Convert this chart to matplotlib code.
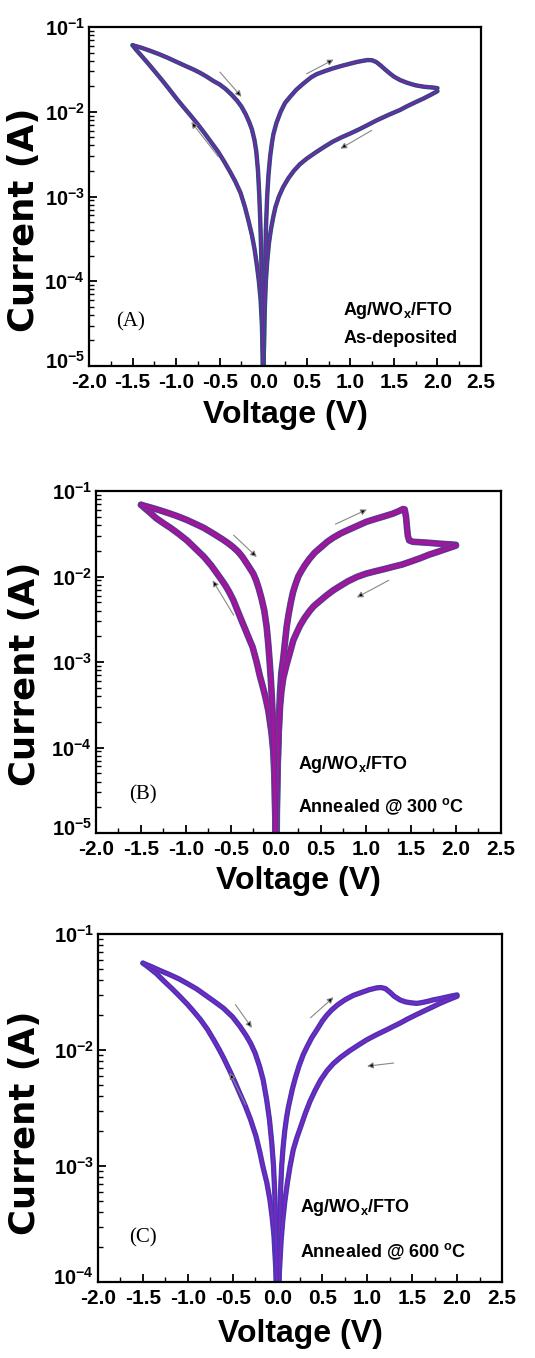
import matplotlib
matplotlib.use("Agg")
import matplotlib.pyplot as plt
from matplotlib.ticker import LogLocator, MultipleLocator, NullFormatter, FixedLocator
from matplotlib.transforms import ScaledTranslation

plt.rcParams['font.family'] = ['Liberation Sans', 'DejaVu Sans']
plt.rcParams['font.weight'] = 'bold'
plt.rcParams['mathtext.fontset'] = 'custom'
plt.rcParams['mathtext.rm'] = 'Liberation Sans:bold'
plt.rcParams['mathtext.it'] = 'Liberation Sans:bold'
plt.rcParams['mathtext.bf'] = 'Liberation Sans:bold'
plt.rcParams['mathtext.default'] = 'rm'

# ---------------- Data ----------------
# Panel A : as-deposited   (sweep 0 -> 2 -> 0 -> -1.5 -> 0)
A_fwd_pos_V = [0.0, 0.005, 0.01, 0.02, 0.03, 0.045, 0.06, 0.08, 0.1, 0.116, 0.15, 0.2, 0.25, 0.308,
               0.38, 0.46, 0.55, 0.614, 0.7, 0.8, 0.9, 1.0, 1.08, 1.15, 1.2, 1.25, 1.3, 1.35, 1.4,
               1.45, 1.5, 1.57, 1.65, 1.75, 1.85, 1.95, 2.0]
A_fwd_pos_I = [1e-6, 1.2e-5, 3e-5, 1.2e-4, 4e-4, 1.0e-3, 1.8e-3, 3.0e-3, 4.3e-3, 5.4e-3, 7.3e-3,
               1.0e-2, 1.27e-2, 1.5e-2, 1.82e-2, 2.15e-2, 2.55e-2, 2.78e-2, 3.0e-2, 3.25e-2,
               3.48e-2, 3.7e-2, 3.88e-2, 4.0e-2, 4.08e-2, 4.05e-2, 3.85e-2, 3.5e-2, 3.15e-2,
               2.85e-2, 2.6e-2, 2.37e-2, 2.2e-2, 2.05e-2, 1.97e-2, 1.93e-2, 1.9e-2]
A_rev_pos_V = [2.0, 1.93, 1.85, 1.75, 1.65, 1.57, 1.45, 1.3, 1.19, 1.1, 1.0, 0.9, 0.8, 0.7, 0.6,
               0.5, 0.42, 0.35, 0.29, 0.23, 0.18, 0.14, 0.116, 0.09, 0.065, 0.045, 0.03, 0.015,
               0.005, 0.0]
A_rev_pos_I = [1.75e-2, 1.6e-2, 1.45e-2, 1.3e-2, 1.16e-2, 1.05e-2, 9.3e-3, 7.9e-3, 6.9e-3, 6.2e-3,
               5.55e-3, 5.0e-3, 4.45e-3, 3.85e-3, 3.3e-3, 2.8e-3, 2.4e-3, 2.0e-3, 1.65e-3, 1.3e-3,
               1.0e-3, 7.5e-4, 5.8e-4, 4.2e-4, 2.8e-4, 1.7e-4, 1.0e-4, 4e-5, 1.2e-5, 1e-6]
A_fwd_neg_V = [0.0, -0.005, -0.015, -0.03, -0.05, -0.075, -0.1, -0.13, -0.17, -0.21, -0.26, -0.32,
               -0.38, -0.45, -0.52, -0.6, -0.68, -0.76, -0.84, -0.92, -1.0, -1.08, -1.16, -1.24,
               -1.32, -1.4, -1.46, -1.5]
A_fwd_neg_I = [1e-6, 1.2e-5, 3e-5, 6e-5, 1.0e-4, 1.6e-4, 2.4e-4, 3.5e-4, 5.2e-4, 7.5e-4, 1.1e-3,
               1.5e-3, 1.95e-3, 2.6e-3, 3.4e-3, 4.4e-3, 5.7e-3, 7.3e-3, 9.2e-3, 1.15e-2, 1.45e-2,
               1.85e-2, 2.35e-2, 2.95e-2, 3.7e-2, 4.6e-2, 5.4e-2, 6.1e-2]
A_rev_neg_V = [-1.5, -1.4, -1.3, -1.2, -1.1, -1.0, -0.9, -0.8, -0.73, -0.65, -0.57, -0.5, -0.43,
               -0.36, -0.3, -0.25, -0.2, -0.16, -0.13, -0.1, -0.08, -0.06, -0.045, -0.035, -0.025,
               -0.015, -0.005, 0.0]
A_rev_neg_I = [6.1e-2, 5.7e-2, 5.25e-2, 4.8e-2, 4.35e-2, 3.9e-2, 3.5e-2, 3.15e-2, 2.9e-2, 2.6e-2,
               2.3e-2, 2.1e-2, 1.85e-2, 1.58e-2, 1.35e-2, 1.15e-2, 9.3e-3, 7.5e-3, 6.2e-3, 4.6e-3,
               3.4e-3, 2.0e-3, 1.0e-3, 5.5e-4, 2.5e-4, 8e-5, 1.5e-5, 1e-6]

# Panel B : annealed @ 300 C
B_fwd_pos_V = [0.0, 0.01, 0.02, 0.03, 0.044, 0.06, 0.081, 0.1, 0.119, 0.14, 0.165, 0.19, 0.22,
               0.248, 0.28, 0.32, 0.37, 0.43, 0.5, 0.57, 0.637, 0.72, 0.8, 0.9, 1.0, 1.1, 1.2, 1.3,
               1.37, 1.41, 1.43, 1.445, 1.455, 1.465, 1.48, 1.52, 1.6, 1.7, 1.8, 1.9, 2.0]
B_fwd_pos_I = [1e-6, 2e-5, 7e-5, 1.6e-4, 4.2e-4, 7.5e-4, 1.1e-3, 1.7e-3, 2.6e-3, 3.6e-3, 5.0e-3,
               6.6e-3, 8.3e-3, 1.0e-2, 1.15e-2, 1.35e-2, 1.6e-2, 1.9e-2, 2.2e-2, 2.55e-2, 2.85e-2,
               3.2e-2, 3.5e-2, 3.9e-2, 4.35e-2, 4.7e-2, 5.05e-2, 5.45e-2, 5.85e-2, 6.15e-2,
               6.1e-2, 5.0e-2, 3.8e-2, 3.0e-2, 2.65e-2, 2.55e-2, 2.52e-2, 2.48e-2, 2.43e-2,
               2.39e-2, 2.35e-2]
B_rev_pos_V = [2.0, 1.9, 1.8, 1.7, 1.61, 1.5, 1.4, 1.3, 1.2, 1.1, 1.0, 0.9, 0.8, 0.7, 0.637, 0.56,
               0.48, 0.42, 0.378, 0.32, 0.27, 0.23, 0.193, 0.156, 0.12, 0.081, 0.06, 0.045, 0.03,
               0.015, 0.005, 0.0]
B_rev_pos_I = [2.3e-2, 2.12e-2, 1.95e-2, 1.8e-2, 1.65e-2, 1.5e-2, 1.38e-2, 1.3e-2, 1.22e-2,
               1.15e-2, 1.08e-2, 9.9e-3, 8.8e-3, 7.6e-3, 6.9e-3, 6.0e-3, 5.1e-3, 4.5e-3, 4.0e-3,
               3.3e-3, 2.7e-3, 2.2e-3, 1.8e-3, 1.3e-3, 9.5e-4, 6.5e-4, 4.5e-4, 3e-4, 1.5e-4, 5e-5,
               1.2e-5, 1e-6]
B_fwd_neg_V = [0.0, -0.005, -0.015, -0.03, -0.05, -0.085, -0.12, -0.15, -0.178, -0.215, -0.26,
               -0.326, -0.4, -0.474, -0.52, -0.56, -0.6, -0.659, -0.72, -0.8, -0.9, -0.99, -1.08,
               -1.17, -1.25, -1.33, -1.4, -1.45, -1.5]
B_fwd_neg_I = [1e-6, 1.2e-5, 4e-5, 9e-5, 1.5e-4, 2.7e-4, 4e-4, 5.3e-4, 6.8e-4, 1.0e-3, 1.5e-3,
               2.2e-3, 3.4e-3, 5.3e-3, 6.6e-3, 7.8e-3, 9.0e-3, 1.1e-2, 1.35e-2, 1.7e-2, 2.15e-2,
               2.65e-2, 3.15e-2, 3.7e-2, 4.2e-2, 4.8e-2, 5.6e-2, 6.2e-2, 6.9e-2]
B_rev_neg_V = [-1.5, -1.4, -1.3, -1.2, -1.1, -0.992, -0.9, -0.8, -0.7, -0.6, -0.53, -0.474,
               -0.42, -0.37, -0.33, -0.29, -0.252, -0.22, -0.19, -0.16, -0.13, -0.104, -0.085,
               -0.07, -0.058, -0.048, -0.035, -0.02, -0.008, 0.0]
B_rev_neg_I = [6.9e-2, 6.45e-2, 6.0e-2, 5.55e-2, 5.1e-2, 4.6e-2, 4.15e-2, 3.7e-2, 3.2e-2,
               2.75e-2, 2.45e-2, 2.2e-2, 1.95e-2, 1.68e-2, 1.45e-2, 1.25e-2, 1.08e-2, 9.0e-3,
               7.2e-3, 5.5e-3, 4.0e-3, 2.6e-3, 1.6e-3, 1.0e-3, 6.5e-4, 4.2e-4, 2.2e-4, 8e-5, 2e-5,
               1e-6]

# Panel C : annealed @ 600 C
C_fwd_pos_V = [0.0, 0.005, 0.015, 0.025, 0.035, 0.046, 0.06, 0.08, 0.1, 0.12, 0.138, 0.165, 0.2,
               0.24, 0.286, 0.33, 0.38, 0.44, 0.5, 0.546, 0.6, 0.67, 0.75, 0.843, 0.93, 1.02, 1.1,
               1.15, 1.2, 1.25, 1.3, 1.363, 1.42, 1.48, 1.548, 1.6, 1.67, 1.734, 1.8, 1.87, 1.94,
               2.0]
C_fwd_pos_I = [1e-6, 3e-5, 1.5e-4, 3.5e-4, 6.5e-4, 1.0e-3, 1.4e-3, 2.0e-3, 2.6e-3, 3.2e-3, 3.7e-3,
               4.6e-3, 5.8e-3, 7.3e-3, 9.1e-3, 1.07e-2, 1.27e-2, 1.5e-2, 1.78e-2, 1.98e-2, 2.2e-2,
               2.45e-2, 2.7e-2, 2.95e-2, 3.12e-2, 3.3e-2, 3.42e-2, 3.45e-2, 3.38e-2, 3.15e-2,
               2.9e-2, 2.7e-2, 2.6e-2, 2.55e-2, 2.52e-2, 2.55e-2, 2.62e-2, 2.7e-2, 2.76e-2,
               2.84e-2, 2.92e-2, 2.98e-2]
C_rev_pos_V = [2.0, 1.9, 1.8, 1.734, 1.65, 1.55, 1.45, 1.363, 1.28, 1.2, 1.1, 0.992, 0.9, 0.8, 0.7,
               0.62, 0.55, 0.48, 0.42, 0.361, 0.31, 0.26, 0.215, 0.175, 0.14, 0.11, 0.082, 0.06,
               0.04, 0.02, 0.008, 0.0]
C_rev_pos_I = [2.9e-2, 2.7e-2, 2.5e-2, 2.36e-2, 2.2e-2, 2.02e-2, 1.85e-2, 1.7e-2, 1.58e-2,
               1.47e-2, 1.35e-2, 1.22e-2, 1.1e-2, 9.8e-3, 8.6e-3, 7.6e-3, 6.6e-3, 5.5e-3, 4.5e-3,
               3.6e-3, 2.85e-3, 2.2e-3, 1.75e-3, 1.38e-3, 1.0e-3, 7.2e-4, 5.0e-4, 3.5e-4, 2.3e-4,
               1.2e-4, 5e-5, 1e-6]
C_fwd_neg_V = [0.0, -0.008, -0.02, -0.04, -0.06, -0.085, -0.12, -0.165, -0.196, -0.24, -0.3,
               -0.36, -0.419, -0.48, -0.54, -0.6, -0.648, -0.7, -0.78, -0.86, -0.94, -1.01, -1.1,
               -1.18, -1.27, -1.35, -1.43, -1.5]
C_fwd_neg_I = [1e-6, 5e-5, 1.3e-4, 2.5e-4, 3.6e-4, 5.1e-4, 7.2e-4, 1.0e-3, 1.3e-3, 1.8e-3, 2.5e-3,
               3.3e-3, 4.2e-3, 5.4e-3, 6.8e-3, 8.5e-3, 1.0e-2, 1.18e-2, 1.5e-2, 1.83e-2, 2.17e-2,
               2.5e-2, 2.95e-2, 3.4e-2, 3.95e-2, 4.55e-2, 5.1e-2, 5.6e-2]
C_rev_neg_V = [-1.5, -1.4, -1.3, -1.2, -1.1, -1.012, -0.9, -0.8, -0.7, -0.6, -0.5, -0.42, -0.35,
               -0.3, -0.25, -0.2, -0.16, -0.121, -0.09, -0.065, -0.045, -0.03, -0.02, -0.01,
               -0.004, 0.0]
C_rev_neg_I = [5.6e-2, 5.2e-2, 4.8e-2, 4.45e-2, 4.1e-2, 3.76e-2, 3.35e-2, 2.95e-2, 2.6e-2,
               2.28e-2, 1.92e-2, 1.6e-2, 1.33e-2, 1.14e-2, 9.4e-3, 7.2e-3, 5.5e-3, 3.7e-3, 2.5e-3,
               1.6e-3, 1.0e-3, 5.5e-4, 2.8e-4, 1.2e-4, 4e-5, 1e-6]

x_ticks = [-2.0, -1.5, -1.0, -0.5, 0.0, 0.5, 1.0, 1.5, 2.0, 2.5]
x_tick_labels = ['-2.0', '-1.5', '-1.0', '-0.5', '0.0', '0.5', '1.0', '1.5', '2.0', '2.5']
y_ticks = [
    [1e-5, 1e-4, 1e-3, 1e-2, 1e-1],
    [1e-5, 1e-4, 1e-3, 1e-2, 1e-1],
    [1e-4, 1e-3, 1e-2, 1e-1],
]
panel_letters = ['(A)', '(B)', '(C)']
device_label = r'Ag/WO$_{x}$/FTO'
condition_labels = ['As-deposited', r'Annealed @ 300 $^{o}$C', r'Annealed @ 600 $^{o}$C']
y_limits = [(1e-5, 1e-1), (1e-5, 1e-1), (1e-4, 1e-1)]

panels = [
    [(A_fwd_pos_V, A_fwd_pos_I), (A_rev_pos_V, A_rev_pos_I), (A_fwd_neg_V, A_fwd_neg_I), (A_rev_neg_V, A_rev_neg_I)],
    [(B_fwd_pos_V, B_fwd_pos_I), (B_rev_pos_V, B_rev_pos_I), (B_fwd_neg_V, B_fwd_neg_I), (B_rev_neg_V, B_rev_neg_I)],
    [(C_fwd_pos_V, C_fwd_pos_I), (C_rev_pos_V, C_rev_pos_I), (C_fwd_neg_V, C_fwd_neg_I), (C_rev_neg_V, C_rev_neg_I)],
]

# ---------------- Styling / layout ----------------
axes_rects = [
    [0.1664, 0.7305, 0.7327, 0.2496],
    [0.1794, 0.3866, 0.7570, 0.2518],
    [0.1832, 0.0560, 0.7551, 0.2563],
]
line_layers = [
    [(3.2, '#2c5e6a'), (2.4, '#3a3aa0'), (1.2, '#7a2a9c')],
    [(4.8, '#4a5a8a'), (4.0, '#7a1f9e'), (2.6, '#a0189a')],
    [(3.8, '#4a4a9a'), (3.0, '#4a2ad0'), (1.6, '#7a2ab8')],
]
ylabel_pos = [(-0.166, 0.43), (-0.175, 0.465), (-0.181, 0.457)]
xlabel_y = [-0.145, -0.14, -0.15]
text_pos = [
    dict(letter=(0.070, 0.131), dev=(0.649, 0.165), cond=(0.649, 0.082)),
    dict(letter=(0.081, 0.112), dev=(0.500, 0.199), cond=(0.500, 0.078)),
    dict(letter=(0.076, 0.126), dev=(0.501, 0.213), cond=(0.501, 0.088)),
]
arrows = [
    [((0.334, 0.867), (0.389, 0.794)), ((0.330, 0.617), (0.261, 0.720)),
     ((0.555, 0.862), (0.624, 0.904)), ((0.721, 0.695), (0.641, 0.641))],
    [((0.340, 0.871), (0.397, 0.807)), ((0.340, 0.637), (0.288, 0.739)),
     ((0.591, 0.903), (0.669, 0.946)), ((0.723, 0.739), (0.644, 0.689))],
    [((0.340, 0.797), (0.381, 0.730)), ((0.365, 0.510), (0.326, 0.601)),
     ((0.526, 0.759), (0.583, 0.818)), ((0.732, 0.629), (0.666, 0.620))],
]

fig = plt.figure(figsize=(5.35, 13.58), dpi=100)

for i in range(3):
    ax = fig.add_axes(axes_rects[i])
    for branch_V, branch_I in panels[i]:
        for lw, col in line_layers[i]:
            ax.plot(branch_V, branch_I, color=col, lw=lw, solid_capstyle='round',
                    solid_joinstyle='round')
    ax.set_yscale('log')
    ax.set_xlim(-2.0, 2.5)
    ax.set_ylim(*y_limits[i])
    ax.xaxis.set_major_locator(FixedLocator(x_ticks))
    ax.set_xticklabels(x_tick_labels)
    ax.xaxis.set_minor_locator(MultipleLocator(0.25))
    ax.yaxis.set_major_locator(FixedLocator(y_ticks[i]))
    ax.yaxis.set_minor_locator(LogLocator(base=10, subs=range(2, 10)))
    ax.yaxis.set_minor_formatter(NullFormatter())
    ax.tick_params(which='both', direction='in', top=False, right=False)
    ax.tick_params(which='major', length=6, width=1.3)
    ax.tick_params(which='minor', length=3.5, width=1.0)
    ax.tick_params(axis='x', which='major', labelsize=15, pad=5)
    ax.tick_params(axis='y', which='major', labelsize=14.5, pad=3)
    for lab in ax.get_xticklabels() + ax.get_yticklabels():
        lab.set_fontweight('bold')
    for sp in ax.spines.values():
        sp.set_linewidth(1.6)
    ax.set_xlabel('Voltage (V)', fontsize=23, fontweight='bold')
    ax.set_ylabel('Current (A)', fontsize=25.5, fontweight='bold', family='DejaVu Sans')
    ax.xaxis.set_label_coords(0.5, xlabel_y[i])
    ax.xaxis.label.set_va('center')
    ax.yaxis.set_label_coords(*ylabel_pos[i])
    ax.yaxis.label.set_va('center')

    # lift the lowest y tick label a little so it clears the x tick labels (as in the original)
    bottom_tick = ax.yaxis.get_major_ticks()[0]
    bottom_tick.label1.set_transform(bottom_tick.label1.get_transform() +
                                     ScaledTranslation(0, 6 / 100, fig.dpi_scale_trans))

    tp = text_pos[i]
    ax.text(*tp['letter'], panel_letters[i], transform=ax.transAxes, ha='left', va='center',
            fontsize=15, fontweight='normal', family='Liberation Serif')
    ax.text(*tp['dev'], device_label, transform=ax.transAxes, ha='left', va='center',
            fontsize=13, fontweight='bold')
    ax.text(*tp['cond'], condition_labels[i], transform=ax.transAxes, ha='left', va='center',
            fontsize=13, fontweight='bold')
    for (x0, y0), (x1, y1) in arrows[i]:
        ax.annotate('', xy=(x1, y1), xytext=(x0, y0), xycoords='axes fraction',
                    textcoords='axes fraction',
                    arrowprops=dict(arrowstyle='-|>', lw=0.8, ec='#888888', fc='black',
                                    mutation_scale=9, shrinkA=0, shrinkB=0))

fig.savefig('out.png', dpi=100)
